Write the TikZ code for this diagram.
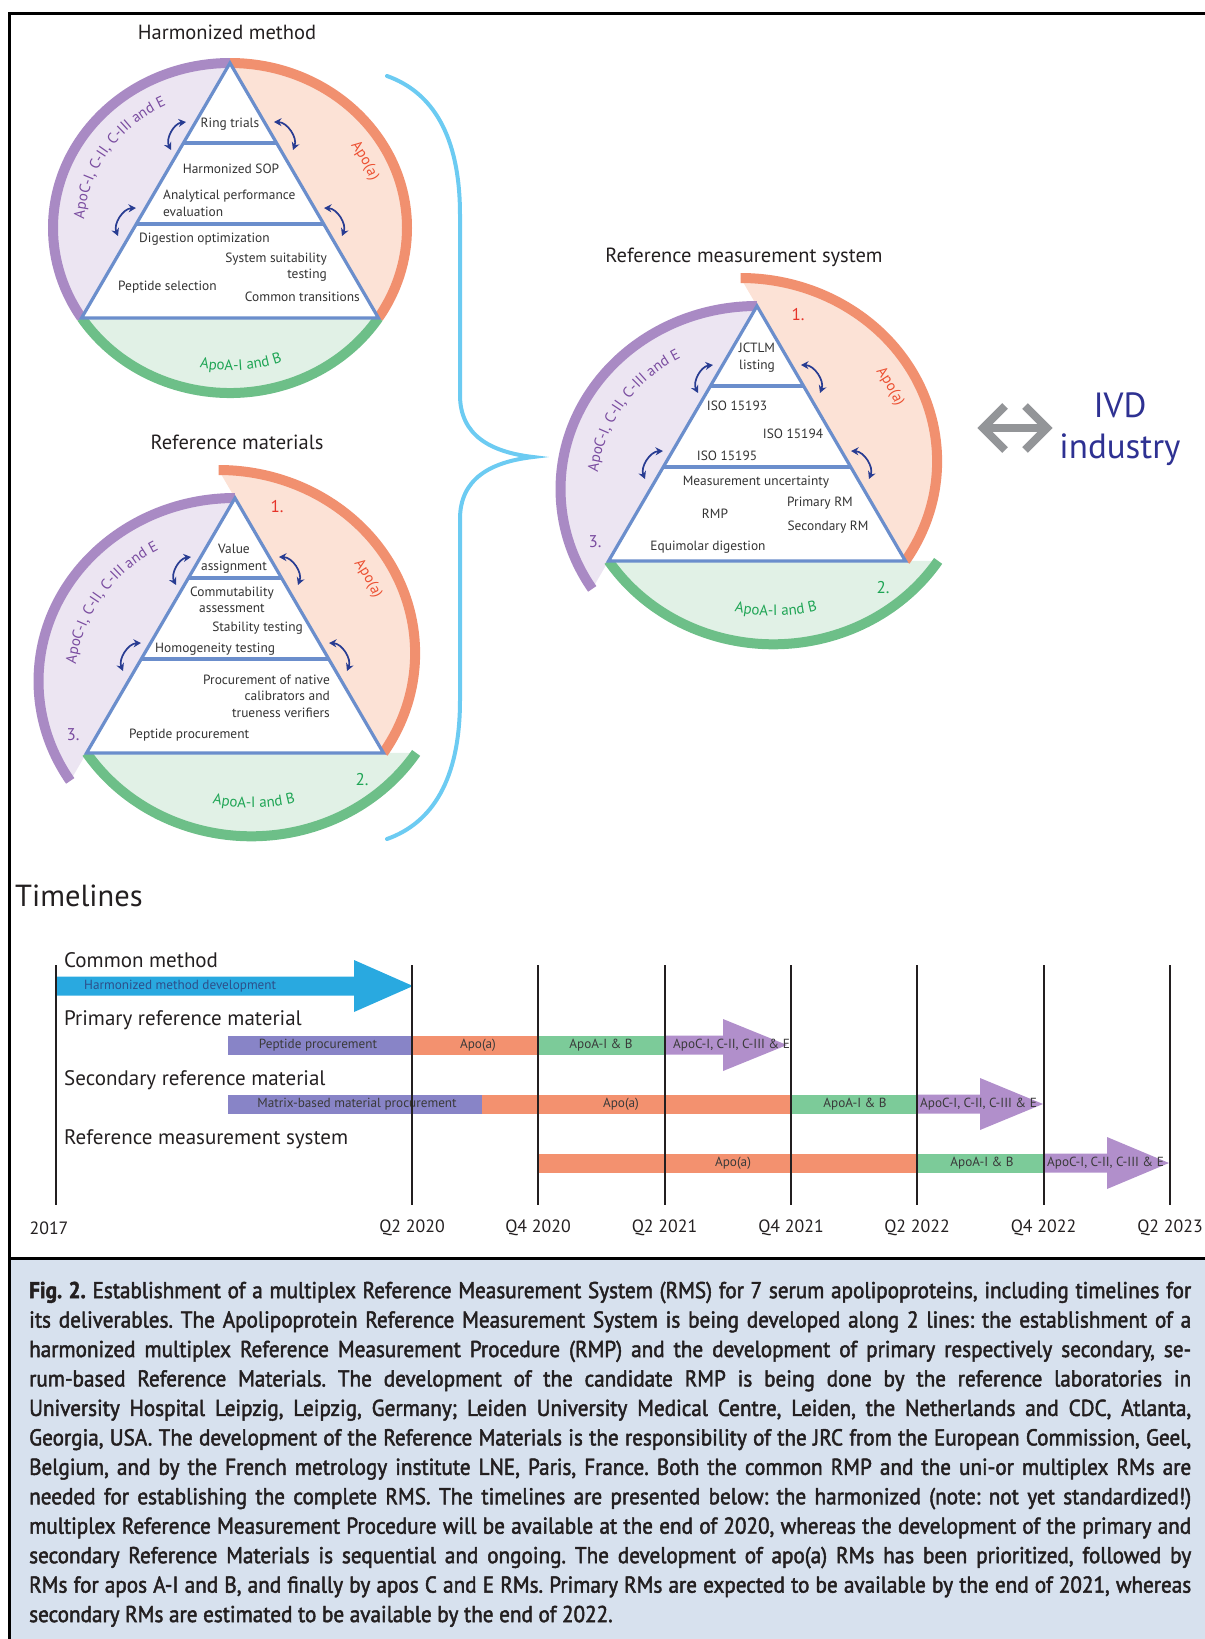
\documentclass[tikz,border=0pt]{standalone}
\usepackage{fontspec}
\setmainfont{PT Sans}
\newfontfamily\capfont[FakeStretch=0.92,FakeBold=2]{PT Sans}
\usetikzlibrary{arrows.meta,decorations.text}
\definecolor{pring}{HTML}{A98AC4}
\definecolor{pfill}{HTML}{ECE5F2}
\definecolor{oring}{HTML}{F1906F}
\definecolor{ofill}{HTML}{FCE2D6}
\definecolor{gring}{HTML}{6DBF88}
\definecolor{gfill}{HTML}{E1F1E6}
\definecolor{triblue}{HTML}{6B8ECC}
\definecolor{ptext}{HTML}{7A4CA0}
\definecolor{otext}{HTML}{EC5032}
\definecolor{gtext}{HTML}{1FA555}
\definecolor{onec}{HTML}{E63329}
\definecolor{navy}{HTML}{283C92}
\definecolor{bracec}{HTML}{6CCBF2}
\definecolor{ivdgray}{HTML}{939598}
\definecolor{ivdblue}{HTML}{2E3192}
\definecolor{tlblue}{HTML}{29A9E0}
\definecolor{tlperi}{HTML}{8884C7}
\definecolor{tllav}{HTML}{B18FCB}
\definecolor{tlorange}{HTML}{F3916F}
\definecolor{tlgreen}{HTML}{7CCB99}
\definecolor{capbg}{HTML}{D7E1EE}
\definecolor{txt}{HTML}{333333}
\definecolor{ink}{HTML}{231F20}
\definecolor{bartxt}{HTML}{3A3A3A}
\definecolor{hmtxt}{HTML}{2D4F8A}
\newcommand\labfont{\fontsize{13.4}{16.5}\selectfont}
\newcommand\curvefont{\fontsize{15}{15}\selectfont}
\newcommand\ttlfont{\fontsize{20.5}{20.5}\selectfont}
\newcommand\secfont{\fontsize{21}{21}\selectfont}
\newcommand\barfont{\fontsize{13.2}{13.2}\selectfont}
\newcommand\yrfont{\fontsize{17.8}{17.8}\selectfont}
\newcommand\numfont{\fontsize{17}{17}\selectfont}
% sectors of a plain circle
\newcommand\mysectors{%
 \fill[pfill] (0,165) arc[start angle=90,end angle=213,x radius=177,y radius=165] -- cycle;
 \fill[ofill] (0,165) arc[start angle=90,end angle=-33,x radius=177,y radius=165] -- cycle;
 \fill[gfill] (-148.4,-89.9) arc[start angle=213,end angle=327,x radius=177,y radius=165] -- cycle;
 \draw[ringstyle,pring] (0,165) arc[start angle=90,end angle=213,x radius=177,y radius=165];
 \draw[ringstyle,oring] (0,165) arc[start angle=90,end angle=-33,x radius=177,y radius=165];
 \draw[ringstyle,gring] (-148.4,-89.9) arc[start angle=213,end angle=327,x radius=177,y radius=165];
}
% exploded sectors
\newcommand\mysectorsx{%
 \begin{scope}[shift={(0,165)},scale=1.11,shift={(0,-165)}]
  \fill[pfill] (0,165) arc[start angle=90,end angle=213,x radius=177,y radius=165] -- cycle;
 \end{scope}
 \begin{scope}[shift={(148.4,-89.9)},scale=1.11,shift={(-148.4,89.9)}]
  \fill[ofill] (148.4,-89.9) arc[start angle=-33,end angle=90,x radius=177,y radius=165] -- cycle;
 \end{scope}
 \begin{scope}[shift={(-148.4,-89.9)},scale=1.11,shift={(148.4,89.9)}]
  \fill[gfill] (-148.4,-89.9) arc[start angle=213,end angle=327,x radius=177,y radius=165] -- cycle;
 \end{scope}
 \begin{scope}[shift={(0,165)},scale=1.11,shift={(0,-165)}]
  \draw[ringstyle,pring] (0,165) arc[start angle=90,end angle=213,x radius=177,y radius=165];
 \end{scope}
 \begin{scope}[shift={(148.4,-89.9)},scale=1.11,shift={(-148.4,89.9)}]
  \draw[ringstyle,oring] (148.4,-89.9) arc[start angle=-33,end angle=90,x radius=177,y radius=165];
 \end{scope}
 \begin{scope}[shift={(-148.4,-89.9)},scale=1.11,shift={(148.4,89.9)}]
  \draw[ringstyle,gring] (-148.4,-89.9) arc[start angle=213,end angle=327,x radius=177,y radius=165];
 \end{scope}
}
% triangle with levels and arrows
\newcommand\mytri{%
 \fill[white] (0,165) -- (-148.4,-89.9) -- (148.4,-89.9) -- cycle;
 \draw[tri] (0,165) -- (-148.4,-89.9) -- (148.4,-89.9) -- cycle;
 \draw[tri] (-46.6,85) -- (46.6,85);
 \draw[tri] (-93.7,4) -- (93.7,4);
 \coordinate (a1) at (-59,78); \coordinate (a2) at (-44,106);
 \coordinate (a3) at (44,106); \coordinate (a4) at (63,78);
 \coordinate (a5) at (-112,-8); \coordinate (a6) at (-94,20);
 \coordinate (a7) at (94,20); \coordinate (a8) at (112,-8);
 \draw[dbl] (a1) to[bend left=55] (a2);
 \draw[dbl] (a3) to[bend left=55] (a4);
 \draw[dbl] (a5) to[bend left=55] (a6);
 \draw[dbl] (a7) to[bend left=55] (a8);
}
\newcommand\myarctext[8]{%
 \path[decorate,decoration={text along path,text align=center,text color=#7,text={|\curvefont|#8}}]
   (#1,#2) ++(#5:#3 and #4) arc[start angle=#5,end angle=#6,x radius=#3,y radius=#4];}
\newcommand\mytlarrow[5]{%
 \fill[#5] (#1,#4+9.5) -- (#2,#4+9.5) -- (#2,#4+26) -- (#3,#4) -- (#2,#4-26) -- (#2,#4-9.5) -- (#1,#4-9.5) -- cycle;}

\begin{document}
\begin{tikzpicture}[x=1pt,y=1pt,
  ringstyle/.style={line width=10pt,line cap=butt},
  tri/.style={draw=triblue,line width=3.2pt,line join=miter},
  dbl/.style={draw=navy,line width=1.7pt,arrows={Stealth[length=7.5pt,width=8pt]-Stealth[length=7.5pt,width=8pt]}},
  lab/.style={font=\labfont,text=txt,inner sep=0pt},
  ttl/.style={font=\ttlfont,text=ink,inner sep=0pt},
  num/.style={font=\numfont,inner sep=0pt},
  sec/.style={font=\secfont,text=ink,inner sep=0pt,anchor=west},
  yr/.style={font=\yrfont,text=ink,inner sep=0pt},
  bartext/.style={font=\barfont,text=bartxt,inner sep=0pt},
  tline/.style={draw=ink,line width=2pt},
  brace/.style={draw=bracec,line width=4pt,line cap=round},
  ivda/.style={draw=ivdgray,line width=8pt,line join=miter}]
\useasboundingbox (0,0) rectangle (1205,-1639);
% frame and caption background
\fill[capbg] (11,-1260) rectangle (1205,-1639);
\draw[line width=3pt] (1205,-13.5) -- (9.7,-13.5) -- (9.7,-1639);
\draw[line width=3pt] (9.7,-1258.7) -- (1205,-1258.7);

% ---------- Harmonized method ----------
\node[ttl] (t1) at (227,-32) {Harmonized method};
\begin{scope}[shift={(230,-228)}]
 \mysectors
 \mytri
 \myarctext{0}{0}{146}{136.5}{207}{87}{ptext}{ApoC-I, C-II, C-III and E}
 \myarctext{0}{0}{149.6}{139.4}{77}{-23}{otext}{Apo(a)}
 \myarctext{0}{0}{152.8}{142.4}{-135.5}{-35.5}{gtext}{ApoA-I and B}
 \node[lab] (h1) at (0,104) {Ring trials};
 \node[lab] (h2) at (1,59) {Harmonized SOP};
 \node[lab,anchor=west,align=left] (h3) at (-67,24.5) {Analytical performance\\evaluation};
 \node[lab,anchor=west] (h4) at (-91,-11) {Digestion optimization};
 \node[lab,anchor=east,align=right] (h5) at (97,-39) {System suitability\\testing};
 \node[lab,anchor=west] (h6) at (-112,-59) {Peptide selection};
 \node[lab,anchor=east] (h7) at (130,-69) {Common transitions};
\end{scope}

% ---------- Reference materials ----------
\node[ttl] (t2) at (237,-442) {Reference materials};
\begin{scope}[shift={(235,-663)}]
 \mysectorsx
 \mytri
 \myarctext{0}{-18.15}{160}{149.5}{207}{87}{ptext}{ApoC-I, C-II, C-III and E}
 \myarctext{-16.3}{9.9}{166.1}{154.8}{77}{-23}{otext}{Apo(a)}
 \myarctext{16.3}{9.9}{166}{154.8}{-139}{-39}{gtext}{ApoA-I and B}
 \node[num,text=onec] (r1) at (42,156) {1.};
 \node[num,text=gtext] (r2) at (127,-117) {2.};
 \node[num,text=ptext] (r3) at (-162,-72) {3.};
 \node[lab,align=center] (m1) at (-1,104.5) {Value\\assignment};
 \node[lab,align=center] (m2) at (-3,63) {Commutability\\assessment};
 \node[lab,anchor=east] (m3) at (68,35) {Stability testing};
 \node[lab,anchor=west] (m4) at (-80,14) {Homogeneity testing};
 \node[lab,anchor=east,align=right] (m5) at (95,-33) {Procurement of native\\calibrators and\\trueness verifiers};
 \node[lab,anchor=west] (m6) at (-106,-72) {Peptide procurement};
\end{scope}

% ---------- Reference measurement system ----------
\node[ttl] (t3) at (744,-257) {Reference measurement system};
\begin{scope}[shift={(757,-471)}]
 \mysectorsx
 \mytri
 \myarctext{0}{-18.15}{160}{149.5}{207}{87}{ptext}{ApoC-I, C-II, C-III and E}
 \myarctext{-16.3}{9.9}{166.1}{154.8}{77}{-23}{otext}{Apo(a)}
 \myarctext{16.3}{9.9}{166}{154.8}{-139}{-39}{gtext}{ApoA-I and B}
 \node[num,text=onec] (s1) at (41,156) {1.};
 \node[num,text=gtext] (s2) at (126,-117) {2.};
 \node[num,text=ptext] (s3) at (-162,-71) {3.};
 \node[lab,align=center] (q1) at (0,113.5) {JCTLM\\listing};
 \node[lab] (q2) at (-20,65) {ISO 15193};
 \node[lab] (q3) at (36,37) {ISO 15194};
 \node[lab] (q4) at (-30,15) {ISO 15195};
 \node[lab] (q5) at (-1,-11) {Measurement uncertainty};
 \node[lab] (q6) at (63,-32) {Primary RM};
 \node[lab] (q7) at (-42,-43) {RMP};
 \node[lab] (q8) at (71,-56) {Secondary RM};
 \node[lab] (q9) at (-49,-76) {Equimolar digestion};
\end{scope}

% ---------- brace ----------
\draw[brace] (387,-76) .. controls (432,-92) and (460,-135) .. (460,-215)
  -- (460,-395) .. controls (460,-435) and (490,-452) .. (533,-457)
  .. controls (490,-462) and (460,-479) .. (460,-519)
  -- (460,-700) .. controls (460,-780) and (432,-823) .. (387,-839);

% ---------- IVD industry ----------
\node[font=\fontsize{35}{41}\selectfont,text=ivdblue,align=center,inner sep=0pt] (ivd) at (1120,-429) {IVD\\industry};
\coordinate (ivdL) at (983,-428);
\coordinate (ivdR) at (1047,-428);
\draw[ivda] (ivdL) -- (ivdR);
\draw[ivda] ([shift={(22,22)}]ivdL) -- (ivdL) -- ([shift={(22,-22)}]ivdL);
\draw[ivda] ([shift={(-22,22)}]ivdR) -- (ivdR) -- ([shift={(-22,-22)}]ivdR);

% ---------- Timelines ----------
\node[font=\fontsize{30.5}{30.5}\selectfont,text=ink,inner sep=0pt,anchor=west] (tl) at (15,-896) {Timelines};
\node[sec] (c1) at (64,-960) {Common method};
\node[sec] (c2) at (64,-1020) {Primary reference material};
\node[sec] (c3) at (64,-1080) {Secondary reference material};
\node[sec] (c4) at (64,-1139) {Reference measurement system};

% common method arrow
\mytlarrow{56}{354}{413}{-986}{tlblue}
\node[bartext,text=hmtxt,anchor=west] (b0) at (84,-986) {Harmonized method development};
% primary RM row
\fill[tlperi] (228,-1035.5) rectangle (412,-1054.5);
\fill[tlorange] (412,-1035.5) rectangle (538,-1054.5);
\fill[tlgreen] (538,-1035.5) rectangle (664.5,-1054.5);
\mytlarrow{664.5}{723}{787}{-1045}{tllav}
\node[bartext] (b1) at (318,-1045) {Peptide procurement};
\node[bartext] (b2) at (478,-1045) {Apo(a)};
\node[bartext] (b3) at (601,-1045) {ApoA-I \& B};
\node[bartext,anchor=west] (b4) at (673,-1045) {ApoC-I, C-II, C-III \& E};
% secondary RM row
\fill[tlperi] (228,-1094.5) rectangle (482,-1113.5);
\fill[tlorange] (482,-1094.5) rectangle (791,-1113.5);
\fill[tlgreen] (791,-1094.5) rectangle (917,-1113.5);
\mytlarrow{917}{980}{1043}{-1104}{tllav}
\node[bartext] (b5) at (357,-1104) {Matrix-based material procurement};
\node[bartext] (b6) at (621,-1104) {Apo(a)};
\node[bartext] (b7) at (855,-1104) {ApoA-I \& B};
\node[bartext,anchor=west] (b8) at (920,-1104) {ApoC-I, C-II, C-III \& E};
% RMS row
\fill[tlorange] (538,-1153.5) rectangle (917,-1172.5);
\fill[tlgreen] (917,-1153.5) rectangle (1043.5,-1172.5);
\mytlarrow{1043.5}{1107}{1169}{-1163}{tllav}
\node[bartext] (b9) at (733,-1163) {Apo(a)};
\node[bartext] (b10) at (982,-1163) {ApoA-I \& B};
\node[bartext,anchor=west] (b11) at (1047,-1163) {ApoC-I, C-II, C-III \& E};
% vertical lines
\foreach \xx in {56,412,538,664.5,791,917,1043.5,1170}
  \draw[tline] (\xx,-965) -- (\xx,-1205);
\node[yr] (y0) at (49,-1228) {2017};
\node[yr] (y1) at (412,-1228) {Q2 2020};
\node[yr] (y2) at (538,-1228) {Q4 2020};
\node[yr] (y3) at (664.5,-1228) {Q2 2021};
\node[yr] (y4) at (791,-1228) {Q4 2021};
\node[yr] (y5) at (917,-1228) {Q2 2022};
\node[yr] (y6) at (1043.5,-1228) {Q4 2022};
\node[yr] (y7) at (1170,-1228) {Q2 2023};

% ---------- caption ----------
\node[anchor=north west,inner sep=0pt,align=left,text=ink,
      font=\capfont\frenchspacing\fontsize{23}{29.45}\selectfont] (cap) at (29,-1281.5) {%
\makebox[1162pt][s]{{\bfseries Fig. 2.} Establishment of a multiplex Reference Measurement System (RMS) for 7 serum apolipoproteins, including timelines for}\\
\makebox[1162pt][s]{its deliverables. The Apolipoprotein Reference Measurement System is being developed along 2 lines: the establishment of a}\\
\makebox[1162pt][s]{harmonized multiplex Reference Measurement Procedure (RMP) and the development of primary respectively secondary, se-}\\
\makebox[1162pt][s]{rum-based Reference Materials. The development of the candidate RMP is being done by the reference laboratories in}\\
\makebox[1162pt][s]{University Hospital Leipzig, Leipzig, Germany; Leiden University Medical Centre, Leiden, the Netherlands and CDC, Atlanta,}\\
\makebox[1162pt][s]{Georgia, USA. The development of the Reference Materials is the responsibility of the JRC from the European Commission, Geel,}\\
\makebox[1162pt][s]{Belgium, and by the French metrology institute LNE, Paris, France. Both the common RMP and the uni-or multiplex RMs are}\\
\makebox[1162pt][s]{needed for establishing the complete RMS. The timelines are presented below: the harmonized (note: not yet standardized!)}\\
\makebox[1162pt][s]{multiplex Reference Measurement Procedure will be available at the end of 2020, whereas the development of the primary and}\\
\makebox[1162pt][s]{secondary Reference Materials is sequential and ongoing. The development of apo(a) RMs has been prioritized, followed by}\\
\makebox[1162pt][s]{RMs for apos A-I and B, and finally by apos C and E RMs. Primary RMs are expected to be available by the end of 2021, whereas}\\
secondary RMs are estimated to be available by the end of 2022.};
\end{tikzpicture}
\end{document}
